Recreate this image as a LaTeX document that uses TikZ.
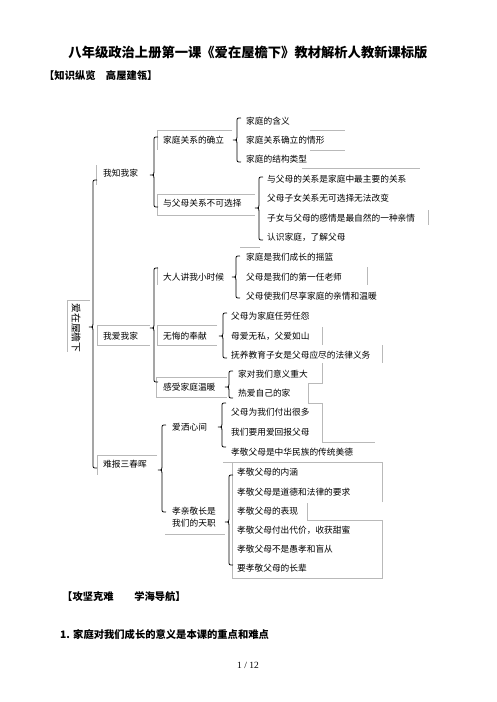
\documentclass[tikz,border=0pt]{standalone}
\usepackage{fontspec}
\setmainfont{Liberation Serif}
\newfontfamily\cjk{Noto Sans CJK SC}
\tikzset{
  lbl/.style={anchor=west,inner sep=0pt,font=\cjk\fontsize{8.7}{10}\selectfont},
  brc/.style={line width=0.8pt,black},
  gl/.style={line width=0.6pt,gray!55},
}
\newcommand\mybrace[4]{% x, top, tip, bottom
  \draw[brc] (#1+4,#2) .. controls (#1,#2) .. (#1,#2+4) -- (#1,#3-3)
    .. controls (#1,#3) .. (#1-4,#3) .. controls (#1,#3) .. (#1,#3+3)
    -- (#1,#4-4) .. controls (#1,#4) .. (#1+4,#4);}
\begin{document}
\begin{tikzpicture}[x=1pt,y=-1pt]
\useasboundingbox[fill=white] (0,0) rectangle (496,702);
% headings
\node[font=\cjk\bfseries\fontsize{13.3}{15}\selectfont,inner sep=0pt] (title) at (248,52) {八年级政治上册第一课《爱在屋檐下》教材解析人教新课标版};
\node[font=\cjk\bfseries\fontsize{10.3}{12}\selectfont,anchor=west,inner sep=0pt] (h1) at (44,76) {【知识纵览\hspace{1em}高屋建瓴】};
% grey box remnants
\draw[gl] (90,300) -- (67,300) -- (67,352);
\draw[gl] (232,130) -- (157,130) -- (157,150);
\draw[gl] (310,130) -- (345,130);
\draw[gl] (310,150) -- (345,150);
\draw[gl] (302,168) -- (420,168);
\draw[gl] (96,165) -- (96,185);
\draw[gl] (255,194) -- (157,194) -- (157,215) -- (255,215);
\draw[gl] (428,210) -- (428,225);
\draw[gl] (240,247) -- (260,247);
\draw[gl] (157,267) -- (157,285);
\draw[gl] (367,267) -- (367,285);
\draw[gl] (150,325) -- (97,325) -- (97,345) -- (150,345);
\draw[gl] (217,325) -- (157,325) -- (157,345) -- (217,345);
\draw[gl] (322,327) -- (322,345);
\draw[gl] (382,345) -- (382,363);
\draw[gl] (227,377) -- (156,377) -- (156,397) -- (227,397);
\draw[gl] (322,363) -- (322,383) -- (308,383) -- (308,403) -- (322,403) -- (322,442) -- (375,442);
\draw[gl] (157,455) -- (97,455) -- (97,475);
\draw[gl] (165,534) -- (225,534);
\draw[gl] (382,502) -- (382,462) -- (223,462);
\draw[gl] (232,462) -- (232,578) -- (382,578) -- (382,520) -- (307,520) -- (307,503);
% root
\node[font=\cjk\fontsize{9.8}{11}\selectfont,rotate=-90,inner sep=0pt] (root) at (76,328) {爱在屋檐下};
\mybrace{93}{180}{327}{468}
% level 1
\node[lbl] (a) at (103,173) {我知我家};
\node[lbl] (b) at (103,336) {我爱我家};
\node[lbl] (c) at (103,464) {难报三春晖};
% 我知我家
\mybrace{154}{137}{175}{207}
\node[lbl] (a1) at (163,140) {家庭关系的确立};
\node[lbl] (a2) at (163,203) {与父母关系不可选择};
\mybrace{237}{118}{140}{162}
\node[lbl] (a11) at (246,121) {家庭的含义};
\node[lbl] (a12) at (246,140) {家庭关系确立的情形};
\node[lbl] (a13) at (246,159) {家庭的结构类型};
\mybrace{259}{177}{208}{240}
\node[lbl] (a21) at (267,179) {与父母的关系是家庭中最主要的关系};
\node[lbl] (a22) at (267,198) {父母子女关系无可选择无法改变};
\node[lbl] (a23) at (267,218) {子女与父母的感情是最自然的一种亲情};
\node[lbl] (a24) at (267,237) {认识家庭，了解父母};
% 我爱我家
\mybrace{154}{268}{328}{382}
\node[lbl] (b1) at (163,277) {大人讲我小时候};
\node[lbl] (b2) at (163,336) {无悔的奉献};
\node[lbl] (b3) at (163,387) {感受家庭温暖};
\mybrace{236}{256}{277}{298}
\node[lbl] (b11) at (246,257) {家庭是我们成长的摇篮};
\node[lbl] (b12) at (246,277) {父母是我们的第一任老师};
\node[lbl] (b13) at (246,296) {父母使我们尽享家庭的亲情和温暖};
\mybrace{223}{313}{336}{358}
\node[lbl] (b21) at (231,316) {父母为家庭任劳任怨};
\node[lbl] (b22) at (231,336) {母爱无私，父爱如山};
\node[lbl] (b23) at (231,355) {抚养教育子女是父母应尽的法律义务};
\mybrace{229}{371}{387}{398}
\node[lbl] (b31) at (238,374) {家对我们意义重大};
\node[lbl] (b32) at (238,393) {热爱自己的家};
% 难报三春晖
\mybrace{162}{425}{470}{512}
\node[lbl] (c1) at (172,427) {爱洒心间};
\node[lbl,align=left] (c2) at (172,517) {孝亲敬长是\\[2.5pt]我们的天职};
\mybrace{222}{403}{427}{447}
\node[lbl] (c11) at (231,412) {父母为我们付出很多};
\node[lbl] (c12) at (231,432) {我们要用爱回报父母};
\node[lbl] (c13) at (231,452) {孝敬父母是中华民族的传统美德};
\mybrace{229}{475}{522}{565}
\node[lbl] (c21) at (237,472) {孝敬父母的内涵};
\node[lbl] (c22) at (237,492) {孝敬父母是道德和法律的要求};
\node[lbl] (c23) at (237,511) {孝敬父母的表现};
\node[lbl] (c24) at (237,530) {孝敬父母付出代价，收获甜蜜};
\node[lbl] (c25) at (237,549) {孝敬父母不是愚孝和盲从};
\node[lbl] (c26) at (237,568) {要孝敬父母的长辈};
% bottom
\node[font=\cjk\bfseries\fontsize{10.3}{12}\selectfont,anchor=west,inner sep=0pt] (h2) at (62,597) {【攻坚克难\hspace{2em}学海导航】};
\node[font=\cjk\bfseries\fontsize{10.3}{12}\selectfont,anchor=west,inner sep=0pt] (p1) at (60,635) {1. 家庭对我们成长的意义是本课的重点和难点};
\node[font=\fontsize{9.5}{11}\selectfont,inner sep=0pt] (pg) at (248,665) {1 / 12};
\end{tikzpicture}
\end{document}
